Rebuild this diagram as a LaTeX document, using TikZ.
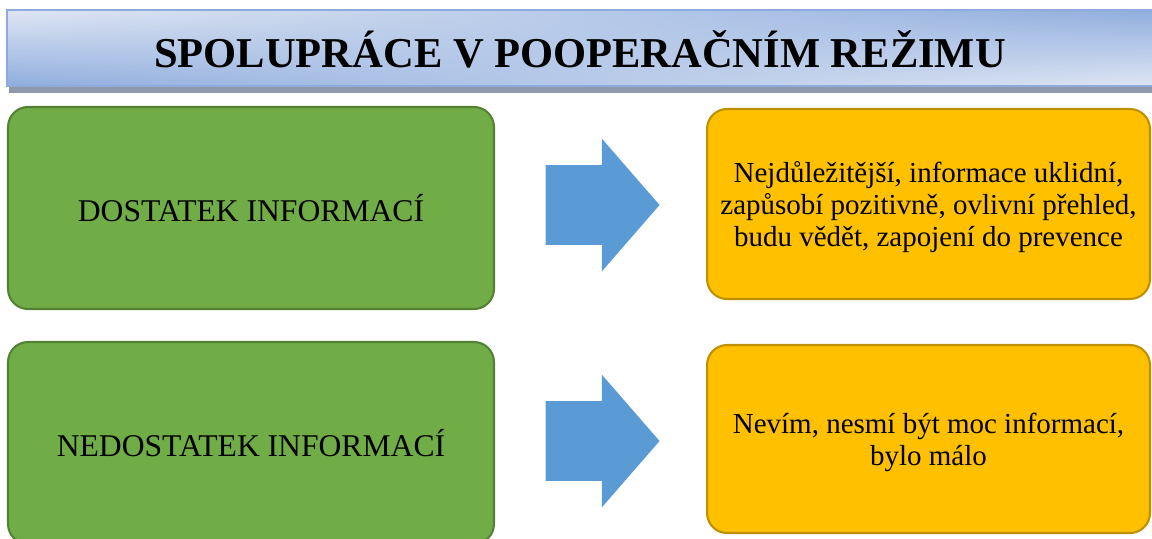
\documentclass[tikz,border=0pt]{standalone}
\usepackage{fontspec}
\setmainfont{Liberation Serif}
\usepackage{xcolor}
\usepackage{tikz}
\usetikzlibrary{shapes.arrows,shadings}

\definecolor{causegreen}{HTML}{70AD47}
\definecolor{causeline}{HTML}{548235}
\definecolor{effectgold}{HTML}{FFC000}
\definecolor{effectline}{HTML}{BF9000}
\definecolor{arrowblue}{HTML}{5B9BD5}
\definecolor{titlelight}{HTML}{DFE6F3}
\definecolor{titledark}{HTML}{8FADDE}
\definecolor{titleedge}{HTML}{8FAADC}
\definecolor{titleshadow}{HTML}{8E9AAB}

\begin{document}
\begin{tikzpicture}[x=0.02cm, y=-0.02cm,
    cause/.style={rectangle, rounded corners=0.4cm, draw=causeline, line width=1.2pt,
        fill=causegreen, minimum width=9.72cm, minimum height=4.04cm,
        font=\fontsize{18}{21}\selectfont, align=center},
    effect/.style={rectangle, rounded corners=0.4cm, draw=effectline, line width=1.2pt,
        fill=effectgold, minimum width=8.86cm, align=center,
        font=\fontsize{16.5}{18}\selectfont},
    blockarrow/.style={single arrow, fill=arrowblue, draw=none, inner xsep=0pt,
        inner ysep=0.79cm, minimum height=2.28cm, single arrow head extend=0.53cm,
        single arrow tip angle=98, anchor=tip}
]
    \useasboundingbox (0,0) rectangle (1152,538);
    % title bar
    \fill[titleshadow] (9,20) rectangle (1160,93);
    \shade[upper left=titlelight, lower left=titledark, upper right=titledark,
        lower right=titlelight] (7,10) rectangle (1160,86);
    \draw[titleedge, line width=0.8pt] (1160,10) -- (7,10) -- (7,86) -- (1160,86);
    \node[font=\fontsize{24.2}{28}\selectfont\bfseries] (title) at (580,49)
        {SPOLUPRÁCE V POOPERAČNÍM REŽIMU};

    \node[cause] (dost) at (251,208) {DOSTATEK INFORMACÍ};
    \node[cause] (nedost) at (251,443) {NEDOSTATEK INFORMACÍ};

    \node[effect, minimum height=3.8cm, text depth=-0.12cm] (dostres) at (928.5,204)
        {Nejdůležitější, informace uklidní,\\zapůsobí pozitivně, ovlivní přehled,\\budu vědět, zapojení do prevence};
    \node[effect, minimum height=3.76cm, text depth=-0.12cm] (nedostres) at (928.5,439)
        {Nevím, nesmí být moc informací,\\bylo málo};

    \node[blockarrow] (arr1) at (660,205) {};
    \node[blockarrow] (arr2) at (660,441) {};
\end{tikzpicture}
\end{document}
